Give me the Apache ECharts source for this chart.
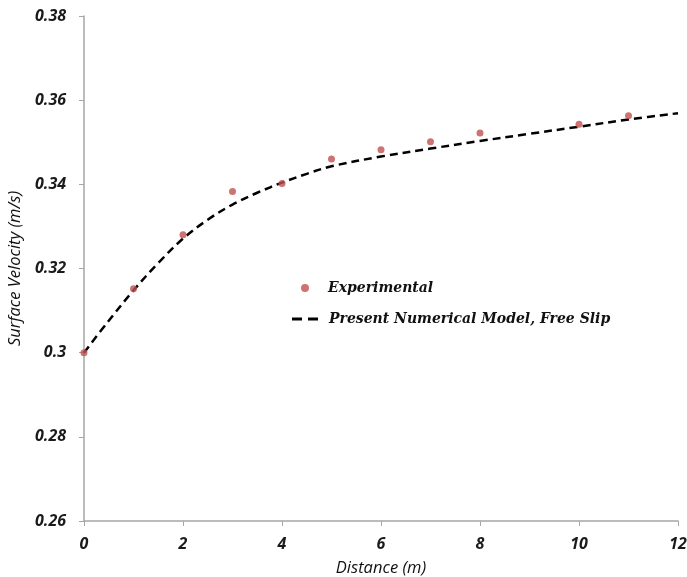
<!DOCTYPE html>
<html>
<head>
<meta charset="utf-8">
<script src="https://cdn.jsdelivr.net/npm/echarts@6/dist/echarts.min.js"></script>
<style>html,body{margin:0;padding:0;background:#fff;overflow:hidden;}#c{width:687px;height:577px;}</style>
</head>
<body>
<div id="c"></div>
<script>
var expX = [0, 1, 2, 3, 4, 5, 6, 7, 8, 10, 11];
var expY = [0.300, 0.3152, 0.328, 0.3383, 0.3402, 0.346, 0.3482, 0.3501, 0.3522, 0.3543, 0.3563];
var modelX = [0, 0.5, 1, 1.5, 2, 2.5, 3, 3.5, 4, 4.5, 5, 6, 7, 8, 9, 10, 11, 12];
var modelY = [0.300, 0.3076, 0.3148, 0.3213, 0.3271, 0.3316, 0.3352, 0.3380, 0.3404, 0.3425, 0.3443, 0.3466, 0.3485, 0.3503, 0.352, 0.3537, 0.3554, 0.3569];
var seriesNames = ['Experimental', 'Present Numerical Model, Free Slip'];

var chart = echarts.init(document.getElementById('c'), null, {renderer: 'canvas', width: 687, height: 577});
var axisFont = {fontFamily: 'Open Sans', fontStyle: 'italic', fontWeight: 'bold', fontSize: 16, color: '#1a1a1a'};
var legendText = {fontFamily: 'DejaVu Serif', fontStyle: 'italic', fontWeight: 'bold', fontSize: 14, color: '#111'};
var titleFont = {fontFamily: 'Open Sans', fontStyle: 'italic', fontWeight: 'normal', fontSize: 16.5, color: '#111'};
chart.setOption({
  animation: false,
  backgroundColor: '#fff',
  grid: {left: 84, top: 16, width: 594, height: 505, containLabel: false, outerBoundsMode: 'none'},
  legend: [
    {
      left: 296, top: 276, itemWidth: 8, itemHeight: 8, itemGap: 10,
      textStyle: Object.assign({padding: [0, 0, 0, 14]}, legendText),
      data: [{name: seriesNames[0], icon: 'circle'}]
    },
    {
      left: 287, top: 307, itemWidth: 26, itemHeight: 3,
      textStyle: Object.assign({padding: [0, 0, 0, 6]}, legendText),
      data: [{name: seriesNames[1], icon: 'path://M0,0 L10,0 L10,3 L0,3 Z M16,0 L26,0 L26,3 L16,3 Z', itemStyle: {color: '#000'}}]
    }
  ],
  xAxis: {
    type: 'value', min: 0, max: 12, interval: 2,
    name: 'Distance (m)', nameLocation: 'middle', nameGap: 39,
    nameTextStyle: titleFont,
    axisLine: {lineStyle: {color: '#a6a6a6', width: 1.5}},
    axisTick: {show: true, inside: false, length: 5, lineStyle: {color: '#a6a6a6'}},
    axisLabel: Object.assign({margin: 15}, axisFont),
    splitLine: {show: false}
  },
  yAxis: {
    type: 'value', min: 0.26, max: 0.38, interval: 0.02,
    name: 'Surface Velocity (m/s)', nameLocation: 'middle', nameGap: 52, nameRotate: 90,
    nameTextStyle: titleFont,
    axisLine: {show: true, lineStyle: {color: '#a6a6a6', width: 1.5}},
    axisTick: {show: true, inside: false, length: 5, lineStyle: {color: '#a6a6a6'}},
    axisLabel: Object.assign({margin: 18, formatter: function(v){ return String(+v.toFixed(2)); }}, axisFont),
    splitLine: {show: false}
  },
  series: [
    {
      name: seriesNames[0], type: 'scatter', symbol: 'circle', symbolSize: 7,
      itemStyle: {color: '#c0504d'},
      data: expX.map(function(x, i){ return [x, expY[i]]; }),
      z: 3
    },
    {
      name: seriesNames[1], type: 'line', smooth: 0.35, showSymbol: false, symbol: 'none',
      lineStyle: {color: '#000', width: 2.5, type: [8, 5]},
      itemStyle: {color: '#000'},
      data: modelX.map(function(x, i){ return [x, modelY[i]]; }),
      z: 2
    }
  ]
});
</script>
</body>
</html>
